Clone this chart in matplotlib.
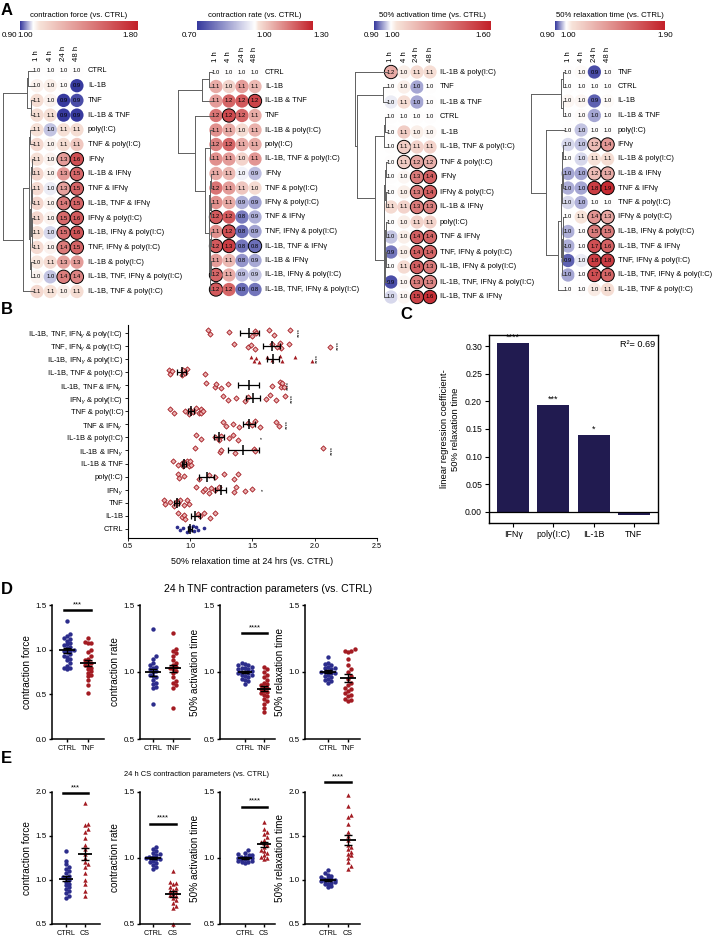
import numpy as np
import matplotlib
matplotlib.use('Agg')
import matplotlib.pyplot as plt
from matplotlib.colors import LinearSegmentedColormap, TwoSlopeNorm

plt.rcParams['font.family'] = ['Liberation Sans', 'DejaVu Sans']
plt.rcParams['mathtext.fontset'] = 'custom'
plt.rcParams['mathtext.rm'] = 'Liberation Sans'
plt.rcParams['mathtext.it'] = 'Liberation Sans:italic'

# ---------------- panel A: heatmaps (values vs. CTRL, 1/4/24/48 h) ----------------
A_TIMES = ['1 h', '4 h', '24 h', '48 h']

force_rows = ['CTRL', 'IL-1B', 'TNF', 'IL-1B & TNF', 'poly(I:C)', 'TNF & poly(I:C)', 'IFNγ',
              'IL-1B & IFNγ', 'TNF & IFNγ', 'IL-1B, TNF & IFNγ', 'IFNγ & poly(I:C)',
              'IL-1B, IFNγ & poly(I:C)', 'TNF, IFNγ & poly(I:C)', 'IL-1B & poly(I:C)',
              'IL-1B, TNF, IFNγ & poly(I:C)', 'IL-1B, TNF & poly(I:C)']
force_vals = [[1.00, 1.00, 1.00, 1.00], [1.02, 1.03, 1.01, 0.90], [1.07, 1.02, 0.90, 0.91],
              [1.07, 1.06, 0.90, 0.90], [1.06, 0.97, 1.06, 1.07], [1.09, 1.02, 1.07, 1.15],
              [1.06, 1.02, 1.32, 1.62], [1.10, 1.02, 1.34, 1.53], [1.08, 0.99, 1.30, 1.54],
              [1.10, 1.02, 1.45, 1.54], [1.09, 1.02, 1.52, 1.58], [1.06, 0.98, 1.50, 1.60],
              [1.08, 1.02, 1.45, 1.54], [1.04, 1.08, 1.30, 1.32], [1.02, 0.97, 1.44, 1.42],
              [1.09, 1.05, 1.03, 1.07]]
force_sig = ['0000', '0000', '0000', '0000', '0000', '0000', '0011', '0001', '0011', '0011',
             '0011', '0011', '0011', '0000', '0011', '0000']
force_links = [[0, 1, 0.17], [2, 3, 0.08], [16, 17, 0.2], [4, 5, 0.1], [6, 7, 0.04], [8, 9, 0.03],
               [20, 21, 0.06], [10, 11, 0.03], [12, 23, 0.05], [22, 24, 0.08], [13, 14, 0.06],
               [25, 26, 0.1], [19, 27, 0.14], [28, 15, 0.33], [18, 29, 1.0]]

rate_rows = ['CTRL', 'IL-1B', 'IL-1B & TNF', 'TNF', 'IL-1B & poly(I:C)', 'poly(I:C)',
             'IL-1B, TNF & poly(I:C)', 'IFNγ', 'TNF & poly(I:C)', 'IFNγ & poly(I:C)', 'TNF & IFNγ',
             'TNF, IFNγ & poly(I:C)', 'IL-1B, TNF & IFNγ', 'IL-1B & IFNγ', 'IL-1B, IFNγ & poly(I:C)',
             'IL-1B, TNF, IFNγ & poly(I:C)']
rate_vals = [[1.00, 1.00, 1.00, 1.00], [1.10, 1.04, 1.12, 1.08], [1.12, 1.20, 1.22, 1.25],
             [1.18, 1.24, 1.20, 1.10], [1.14, 1.10, 1.03, 1.09], [1.16, 1.20, 1.10, 1.10],
             [1.14, 1.12, 1.04, 1.13], [1.10, 1.08, 0.98, 0.90], [1.18, 1.12, 1.06, 1.03],
             [1.14, 1.10, 0.88, 0.86], [1.22, 1.22, 0.80, 0.88], [1.14, 1.23, 0.78, 0.86],
             [1.22, 1.26, 0.79, 0.78], [1.12, 1.08, 0.84, 0.87], [1.20, 1.10, 0.90, 0.91],
             [1.22, 1.20, 0.78, 0.79]]
rate_sig = ['0000', '0000', '0001', '0100', '0000', '0000', '0000', '0000', '0000', '0000',
            '1000', '0100', '1101', '0000', '1000', '1000']
rate_links = [[0, 1, 0.1], [16, 2, 0.28], [4, 5, 0.05], [18, 6, 0.07], [7, 8, 0.04], [9, 10, 0.03],
              [20, 21, 0.05], [11, 12, 0.03], [13, 14, 0.03], [23, 24, 0.05], [25, 15, 0.06],
              [22, 26, 0.08], [19, 27, 0.2], [3, 28, 0.5], [17, 29, 1.0]]

act_rows = ['IL-1B & poly(I:C)', 'TNF', 'IL-1B & TNF', 'CTRL', 'IL-1B', 'IL-1B, TNF & poly(I:C)',
            'TNF & poly(I:C)', 'IFNγ', 'IFNγ & poly(I:C)', 'IL-1B & IFNγ', 'poly(I:C)', 'TNF & IFNγ',
            'TNF, IFNγ & poly(I:C)', 'IL-1B, IFNγ & poly(I:C)', 'IL-1B, TNF, IFNγ & poly(I:C)',
            'IL-1B, TNF & IFNγ']
act_vals = [[1.20, 1.02, 1.06, 1.05], [1.00, 1.02, 0.955, 1.00], [0.99, 1.05, 0.955, 1.00],
            [1.00, 1.00, 1.00, 1.00], [1.00, 1.10, 1.02, 1.01], [1.00, 1.10, 1.08, 1.08],
            [1.00, 1.10, 1.22, 1.18], [1.00, 1.01, 1.34, 1.42], [1.00, 1.02, 1.34, 1.42],
            [1.06, 1.08, 1.34, 1.32], [1.00, 1.02, 1.08, 1.08], [0.97, 1.02, 1.42, 1.40],
            [0.93, 1.02, 1.42, 1.40], [1.00, 1.06, 1.42, 1.34], [0.91, 1.01, 1.33, 1.30],
            [0.98, 1.01, 1.50, 1.56]]
act_sig = ['1000', '0000', '0000', '0000', '0000', '0100', '0111', '0011', '0011', '0011',
           '0000', '0011', '0011', '0011', '0011', '0011']
act_links = [[1, 2, 0.12], [3, 4, 0.05], [17, 5, 0.1], [6, 7, 0.04], [8, 9, 0.03], [19, 20, 0.05],
             [10, 11, 0.03], [12, 13, 0.03], [22, 23, 0.05], [24, 14, 0.06], [21, 25, 0.08],
             [26, 15, 0.1], [18, 27, 0.37], [16, 28, 0.93], [0, 29, 1.0]]

relax_rows = ['TNF', 'CTRL', 'IL-1B', 'IL-1B & TNF', 'poly(I:C)', 'IFNγ', 'IL-1B & poly(I:C)',
              'IL-1B & IFNγ', 'TNF & IFNγ', 'TNF & poly(I:C)', 'IFNγ & poly(I:C)',
              'IL-1B, IFNγ & poly(I:C)', 'IL-1B, TNF & IFNγ', 'TNF, IFNγ & poly(I:C)',
              'IL-1B, TNF, IFNγ & poly(I:C)', 'IL-1B, TNF & poly(I:C)']
relax_vals = [[1.00, 1.01, 0.91, 1.00], [1.00, 1.00, 1.00, 1.00], [1.02, 1.02, 0.92, 1.01],
              [1.00, 1.01, 0.955, 1.00], [1.00, 0.97, 1.00, 1.00], [0.98, 0.97, 1.22, 1.38],
              [1.00, 0.98, 1.06, 1.08], [0.955, 0.955, 1.22, 1.30], [0.96, 0.955, 1.78, 1.86],
              [0.98, 0.96, 1.00, 1.00], [1.00, 1.05, 1.40, 1.32], [0.96, 1.00, 1.50, 1.50],
              [0.96, 1.00, 1.70, 1.62], [0.92, 0.99, 1.78, 1.78], [0.955, 1.00, 1.70, 1.60],
              [1.00, 1.00, 1.04, 1.08]]
relax_sig = ['0000', '0000', '0000', '0000', '0000', '0011', '0000', '0011', '0011', '0000',
             '0011', '0011', '0011', '0011', '0011', '0000']
relax_links = [[0, 1, 0.02], [2, 3, 0.02], [16, 17, 0.1], [5, 6, 0.03], [7, 8, 0.04], [19, 20, 0.05],
               [21, 9, 0.06], [10, 11, 0.03], [12, 13, 0.03], [23, 24, 0.04], [25, 14, 0.05],
               [22, 26, 0.08], [27, 15, 0.19], [4, 28, 0.56], [18, 29, 1.0]]

A_TITLES = ['contraction force (vs. CTRL)', 'contraction rate (vs. CTRL)',
            '50% activation time (vs. CTRL)', '50% relaxation time (vs. CTRL)']
A_RANGES = [(0.9, 1.8), (0.7, 1.3), (0.9, 1.6), (0.9, 1.9)]

# ---------------- panel B ----------------
b_labels = ['IL-1B, TNF, IFN$_\\gamma$ & poly(I:C)', 'TNF, IFN$_\\gamma$ & poly(I:C)',
            'IL-1B, IFN$_\\gamma$ & poly(I:C)', 'IL-1B, TNF & poly(I:C)', 'IL-1B, TNF & IFN$_\\gamma$',
            'IFN$_\\gamma$ & poly(I:C)', 'TNF & poly(I:C)', 'TNF & IFN$_\\gamma$', 'IL-1B & poly(I:C)',
            'IL-1B & IFN$_\\gamma$', 'IL-1B & TNF', 'poly(I:C)', 'IFN$_\\gamma$', 'TNF', 'IL-1B', 'CTRL']
b_vals = [[1.14, 1.16, 1.31, 1.50, 1.52, 1.53, 1.63, 1.67, 1.80],
          [1.35, 1.46, 1.49, 1.52, 1.66, 1.70, 1.72, 1.73, 1.79, 2.12],
          [1.49, 1.51, 1.53, 1.55, 1.62, 1.66, 1.72, 1.74, 1.84, 1.98],
          [0.83, 0.84, 0.85, 0.93, 0.94, 0.96, 0.97, 1.12],
          [1.13, 1.20, 1.21, 1.25, 1.30, 1.66, 1.72, 1.73, 1.74, 1.75],
          [1.26, 1.30, 1.37, 1.44, 1.46, 1.61, 1.64, 1.69, 1.76],
          [0.84, 0.87, 0.96, 0.99, 1.00, 1.02, 1.05, 1.07, 1.09, 1.09, 1.10],
          [1.26, 1.29, 1.34, 1.39, 1.46, 1.50, 1.52, 1.56, 1.69, 1.71],
          [1.05, 1.09, 1.20, 1.23, 1.25, 1.31, 1.34, 1.38],
          [1.04, 1.24, 1.25, 1.36, 1.51, 1.52, 2.07],
          [0.86, 0.90, 0.93, 0.94, 0.95, 0.96, 0.97, 0.99, 1.00, 1.01],
          [0.90, 0.91, 0.95, 1.07, 1.15, 1.20, 1.27, 1.35, 1.38],
          [1.05, 1.10, 1.12, 1.15, 1.17, 1.20, 1.23, 1.35, 1.37, 1.44, 1.50],
          [0.79, 0.80, 0.84, 0.87, 0.89, 0.90, 0.92, 0.95, 0.97, 0.99],
          [0.90, 0.93, 0.95, 0.96, 1.06, 1.08, 1.11, 1.16, 1.20],
          [0.89, 0.92, 0.94, 0.97, 0.99, 1.00, 1.02, 1.03, 1.05, 1.06, 1.11]]
b_stars = ['****', '****', '****', '', '****', '****', '', '****', '*', '****', '', '', '*', '', '', '']
b_star_x = [1.88, 2.19, 2.02, None, 1.79, 1.82, None, 1.78, 1.58, 2.14, None, None, 1.59, None, None, None]

# ---------------- panel C ----------------
c_names = ['IFNγ', 'poly(I:C)', 'IL-1B', 'TNF']
c_coef = [0.305, 0.194, 0.139, -0.005]
c_stars = ['****', '***', '*', '']

# ---------------- panels D / E ----------------
DE_YLABELS = ['contraction force', 'contraction rate', '50% activation time', '50% relaxation time']
d_ctrl = [[1.32, 1.17, 1.15, 1.13, 1.12, 1.10, 1.08, 1.06, 1.05, 1.03, 1.02, 1.00, 0.99, 0.98, 0.97,
           0.95, 0.93, 0.92, 0.90, 0.88, 0.85, 0.82, 0.80, 0.78, 0.79],
          [1.32, 1.12, 1.10, 1.07, 1.05, 1.04, 1.03, 1.02, 1.01, 1.00, 0.98, 0.97, 0.96, 0.94, 0.92,
           0.91, 0.89, 0.88, 0.76],
          [1.07, 1.06, 1.05, 1.05, 1.04, 1.03, 1.02, 1.02, 1.01, 1.00, 1.00, 0.99, 0.99, 0.98, 0.97,
           0.96, 0.95, 0.94, 0.93, 0.91, 1.03, 0.98],
          [1.11, 1.07, 1.06, 1.05, 1.04, 1.03, 1.02, 1.01, 1.00, 1.00, 0.99, 0.98, 0.97, 0.96, 0.95,
           0.94, 0.93, 0.92, 1.03, 0.99]]
d_tnf = [[1.13, 1.09, 1.08, 1.07, 1.00, 0.97, 0.93, 0.90, 0.88, 0.86, 0.85, 0.83, 0.82, 0.80, 0.78,
          0.76, 0.74, 0.72, 0.70, 0.66, 0.60, 0.52],
         [1.29, 1.17, 1.16, 1.14, 1.12, 1.09, 1.07, 1.05, 1.04, 1.03, 1.02, 1.01, 0.99, 0.96, 0.93,
          0.92, 0.90, 0.88, 0.73],
         [1.04, 1.02, 1.00, 0.98, 0.96, 0.94, 0.92, 0.91, 0.90, 0.89, 0.88, 0.87, 0.86, 0.85, 0.84,
          0.83, 0.82, 0.80, 0.78, 0.76, 0.73, 0.70],
         [1.17, 1.16, 1.16, 1.15, 1.10, 1.05, 1.02, 1.00, 0.97, 0.95, 0.92, 0.90, 0.88, 0.86, 0.84,
          0.82, 0.80, 0.79, 0.78, 0.87, 0.83]]
d_sig = [(1.44, '***'), None, (1.29, '****'), None]

e_ctrl = [[1.33, 1.22, 1.18, 1.15, 1.12, 1.10, 1.08, 1.05, 1.03, 1.00, 0.98, 0.96, 0.94, 0.92, 0.90,
           0.88, 0.85, 0.82, 0.80, 1.02],
          [1.08, 1.07, 1.05, 1.04, 1.03, 1.02, 1.01, 1.00, 1.00, 0.99, 0.98, 0.97, 0.96, 0.95, 0.93,
           0.92, 1.01, 0.99],
          [1.06, 1.04, 1.03, 1.02, 1.01, 1.00, 1.00, 0.99, 0.99, 0.98, 0.98, 0.97, 0.97, 0.96, 1.01,
           1.00, 0.99, 1.02],
          [1.11, 1.08, 1.06, 1.05, 1.03, 1.02, 1.01, 1.00, 0.99, 0.98, 0.97, 0.96, 0.95, 0.93, 0.92,
           1.00, 0.99, 1.01]]
e_cs = [[1.87, 1.64, 1.62, 1.58, 1.55, 1.48, 1.40, 1.35, 1.30, 1.25, 1.20, 1.18, 1.15, 1.08, 1.00,
         0.95, 0.88, 0.82],
        [0.90, 0.82, 0.81, 0.80, 0.78, 0.77, 0.76, 0.75, 0.74, 0.73, 0.72, 0.71, 0.70, 0.68, 0.66,
         0.64, 0.62, 0.50],
        [1.27, 1.22, 1.20, 1.18, 1.16, 1.14, 1.12, 1.11, 1.10, 1.08, 1.06, 1.05, 1.04, 1.02, 1.01,
         1.00, 0.99],
        [1.97, 1.84, 1.74, 1.72, 1.64, 1.55, 1.50, 1.45, 1.40, 1.38, 1.35, 1.32, 1.30, 1.28, 1.25,
         1.20, 1.16, 1.13]]
e_sig = [(1.99, '***'), (1.26, '****'), (1.39, '****'), (2.11, '****')]

BLUE = '#2c2d8c'
RED = '#a31b22'
NAVY = '#211b50'
DEND = '#606060'

W, H = 718, 939
fig = plt.figure(figsize=(W / 100, H / 100), dpi=100)


def rect(l, t, w, h):
    return [l / W, 1 - (t + h) / H, w / W, h / H]


def letter(x, y, s):
    fig.text(x / W, 1 - y / H, s, fontsize=12, fontweight='bold', va='top', ha='left')


cmap = LinearSegmentedColormap.from_list(
    'bw_r', [(0, '#373a9e'), (0.5, '#ffffff'), (0.53, '#f7e3d9'), (1, '#c3222a')])


def dendro(ax, links, n):
    pos = {i: float(i) for i in range(n)}
    hgt = {i: 0.0 for i in range(n)}
    for k, (a, b, h) in enumerate(links):
        for c in (a, b):
            ax.plot([hgt[c], h], [pos[c], pos[c]], color=DEND, lw=0.7, clip_on=False)
        ax.plot([h, h], [pos[a], pos[b]], color=DEND, lw=0.7, clip_on=False)
        pos[n + k] = (pos[a] + pos[b]) / 2
        hgt[n + k] = h


# layout of the four heatmap blocks (pixels)
A_LAYOUT = [dict(col0=37, dx=13.3, row0=71, dy=14.7, cb=(20, 138), dend=3, gap=11,
                 tick_ha=('right', 'right', 'right'), tick_dx=(-3, 0, 0)),
            dict(col0=216, dx=13.0, row0=72, dy=14.5, cb=(197, 313), dend=178, gap=10,
                 tick_ha=('right', 'left', 'left'), tick_dx=(0, 1, 0)),
            dict(col0=391, dx=13.0, row0=72, dy=15.0, cb=(374, 491), dend=355, gap=10,
                 tick_ha=('center', 'center', 'right'), tick_dx=(-3, 1, 0)),
            dict(col0=568, dx=13.2, row0=72, dy=14.5, cb=(555, 665), dend=531, gap=10,
                 tick_ha=('right', 'center', 'center'), tick_dx=(0, 2, 0))]

A_DATA = [(force_rows, force_vals, force_sig, force_links),
          (rate_rows, rate_vals, rate_sig, rate_links),
          (act_rows, act_vals, act_sig, act_links),
          (relax_rows, relax_vals, relax_sig, relax_links)]

for (rows, vals, sig, links), lay, rng, title in zip(A_DATA, A_LAYOUT, A_RANGES, A_TITLES):
    vmin, vmax = rng
    norm = TwoSlopeNorm(vcenter=1.0, vmin=vmin, vmax=vmax)
    n = len(rows)
    top = lay['row0'] - lay['dy'] / 2
    ax = fig.add_axes(rect(lay['col0'] - lay['dx'] / 2, top, 4 * lay['dx'], n * lay['dy']))
    ax.set_xlim(-0.5, 3.5)
    ax.set_ylim(n - 0.5, -0.5)
    ax.axis('off')
    v = np.array(vals)
    s = np.array([[int(c) for c in r] for r in sig])
    xx, yy = np.meshgrid(np.arange(4), np.arange(n))
    ax.scatter(xx.ravel(), yy.ravel(), s=92, c=cmap(norm(v.ravel())),
               edgecolors=np.where(s.ravel()[:, None] == 1, [[0, 0, 0, 1]], [[0, 0, 0, 0]]),
               linewidths=0.7, clip_on=False)
    for i in range(n):
        for j in range(4):
            ax.text(j, i, f'{v[i, j]:.1f}', fontsize=4.2, ha='center', va='center')
        ax.text(3 + lay['gap'] / lay['dx'], i, rows[i], fontsize=5.4,
                ha='left', va='center', clip_on=False)
    for j, t in enumerate(A_TIMES):
        ax.text(j, -0.7, t, rotation=90, fontsize=5.6, ha='center', va='bottom')

    # dendrogram
    dax = fig.add_axes(rect(lay['dend'], top, lay['col0'] - 4 - lay['dend'], n * lay['dy']))
    dax.set_xlim(1.0, 0.0)
    dax.set_ylim(n - 0.5, -0.5)
    dax.axis('off')
    dendro(dax, links, n)

    # colour bar
    x0, x1 = lay['cb']
    cax = fig.add_axes(rect(x0, 21, x1 - x0, 9))
    grad = np.linspace(vmin, vmax, 300)[None, :]
    cax.imshow(grad, cmap=cmap, norm=norm, aspect='auto', extent=(vmin, vmax, 0, 1))
    cax.set_xlim(vmin, vmax)
    cax.axis('off')
    cax.text(0.5, 1.25, title, transform=cax.transAxes, ha='center', va='bottom', fontsize=5.6)
    for tv, ha, tdx in zip([vmin, 1.0, vmax], lay['tick_ha'], lay['tick_dx']):
        cax.annotate(f'{tv:.2f}', xy=(tv, 0), xycoords=('data', 'axes fraction'),
                     xytext=(tdx * 0.72, -1.5), textcoords='offset points',
                     ha=ha, va='top', fontsize=5.8)

letter(1, 3, 'A')

# ---------------- panel B ----------------
bx = fig.add_axes(rect(128, 325, 249, 213))
nb = len(b_labels)
jit = [0.18, -0.12, 0.05, -0.22, 0.12, -0.05, 0.22, -0.17]
for i, vals in enumerate(b_vals):
    y = nb - 1 - i
    v = np.array(vals)
    off = np.resize(jit, len(v))
    if b_labels[i] == 'CTRL':
        bx.scatter(v, y + off, s=7, marker='o', color=BLUE, lw=0, zorder=2)
    elif i == 2:
        bx.scatter(v, y + off, s=8, marker='^', color=RED, lw=0, zorder=2)
    else:
        bx.scatter(v, y + off, s=7, marker='D', facecolor='#eab0b0', edgecolor=RED,
                   linewidths=0.6, zorder=2)
    m = v.mean()
    se = v.std(ddof=1) / np.sqrt(len(v))
    bx.errorbar(m, y, xerr=se, fmt='none', ecolor='k', elinewidth=0.9, capsize=2.2,
                capthick=0.9, zorder=3)
    bx.plot(m, y, marker='|', ms=7, mew=1.1, color='k', zorder=3)
    if b_stars[i]:
        bx.text(b_star_x[i], y, b_stars[i], rotation=90, ha='center', va='center', fontsize=4.2)
bx.set_xlim(0.5, 2.5)
bx.set_ylim(-0.7, nb - 0.4)
bx.set_yticks(range(nb))
bx.set_yticklabels(b_labels[::-1], fontsize=5.4)
bx.set_xticks([0.5, 1.0, 1.5, 2.0, 2.5])
bx.set_xticklabels(['0.5', '1.0', '1.5', '2.0', '2.5'], fontsize=5.2)
bx.set_xlabel('50% relaxation time at 24 hrs (vs. CTRL)', fontsize=6.4, labelpad=5)
bx.spines[['top', 'right']].set_visible(False)
bx.tick_params(length=2, width=0.6, pad=1.5)
letter(1, 302, 'B')

# ---------------- panel C ----------------
cx = fig.add_axes(rect(489, 335, 169, 188))
cx.bar(range(len(c_names)), c_coef, width=0.8, color=NAVY)
for i, (val, st) in enumerate(zip(c_coef, c_stars)):
    if st:
        cx.text(i, val + 0.002, st, ha='center', va='bottom', fontsize=6.5)
cx.axhline(0, color='k', lw=0.9)
cx.set_xlim(-0.6, 3.6)
cx.set_ylim(-0.02, 0.32)
cx.set_yticks(np.arange(0, 0.31, 0.05))
cx.set_yticklabels([f'{t:.2f}' for t in np.arange(0, 0.31, 0.05)], fontsize=6.2)
cx.set_xticks(range(len(c_names)))
cx.set_xticklabels(c_names, fontsize=6.4)
cx.set_ylabel('linear regression coefficient-\n50% relaxation time', fontsize=6.8)
cx.text(0.985, 0.975, 'R²= 0.69', transform=cx.transAxes, ha='right', va='top', fontsize=6.6)
cx.tick_params(length=3, width=0.8, pad=2)
for sp in cx.spines.values():
    sp.set_linewidth(1.0)
letter(400, 307, 'C')


# ---------------- panels D / E ----------------
def swarm(vals, xpx, ypx, d=3.4, max_off=9.0):
    # simple beeswarm: offsets in data units so that markers (d px) barely overlap
    vals = np.asarray(vals, dtype=float)
    offs = np.zeros(len(vals))
    placed = []
    for i in np.argsort(vals):
        y = vals[i] * ypx
        best = None
        for k in range(60):
            cands = [0.0] if k == 0 else [k * d * 0.5, -k * d * 0.5]
            ok = [c for c in cands if all((c - px) ** 2 + (y - py) ** 2 >= d * d for px, py in placed)]
            if ok:
                best = ok[0]
                break
        if best is None or abs(best) > max_off:
            best = ((len(placed) % 5) - 2) * max_off / 2.5
        offs[i] = best
        placed.append((best, y))
    return offs / xpx


def dot_panel(lay, top, bottom, ctrl, trt, name, marker, ylim, ylabel, sig):
    left, pc, pt, right = lay
    unit = pt - pc
    ypx = (bottom - top) / (ylim[1] - ylim[0])
    ax = fig.add_axes(rect(left, top, right - left, bottom - top))
    for i, (vals, col, mk) in enumerate([(ctrl, BLUE, 'o'), (trt, RED, marker)]):
        v = np.asarray(vals)
        off = swarm(v, unit, ypx)
        ax.scatter(i + off, v, s=10, color=col, marker=mk, lw=0, zorder=2, clip_on=False)
        m = v.mean()
        se = v.std(ddof=1) / np.sqrt(len(v))
        ax.hlines(m, i - 0.38, i + 0.38, color='k', lw=1.3, zorder=3)
        ax.errorbar(i, m, yerr=se, fmt='none', ecolor='k', elinewidth=1.0, capsize=3,
                    capthick=1.0, zorder=3)
    if sig:
        yv, st = sig
        ax.plot([-0.15, 1.15], [yv, yv], color='k', lw=1.8, clip_on=False)
        ax.text(0.5, yv + (ylim[1] - ylim[0]) * 0.015, st, ha='center', va='bottom',
                fontsize=5.5, clip_on=False)
    ax.set_xlim((left - pc) / unit, (right - pc) / unit)
    ax.set_ylim(*ylim)
    ticks = np.arange(ylim[0], ylim[1] + 0.01, 0.5)
    ax.set_yticks(ticks)
    ax.set_yticklabels([f'{t:.1f}' for t in ticks], fontsize=5.8)
    ax.set_xticks([0, 1])
    ax.set_xticklabels(['CTRL', name], fontsize=5.2)
    ax.set_ylabel(ylabel, fontsize=7.2, labelpad=2)
    ax.spines[['top', 'right']].set_visible(False)
    for sp in ax.spines.values():
        sp.set_linewidth(1.1)
    ax.tick_params(length=2.5, width=1.0, pad=1.5)


D_LAYOUT = [(52, 67, 88, 104), (140, 153, 173, 190), (220, 245, 264, 275), (305, 328, 348, 360)]
E_LAYOUT = [(52, 66, 85, 100), (140, 153, 173, 190), (220, 245, 264, 275), (305, 328, 348, 360)]
D_YLIM = [(0, 1.5), (0.5, 1.5), (0.5, 1.5), (0.5, 1.5)]
E_YLIM = [(0.5, 2.0), (0.5, 1.5), (0.5, 1.5), (0.5, 2.0)]

fig.text(268 / W, 1 - 589 / H, '24 h TNF contraction parameters (vs. CTRL)', ha='center',
         va='center', fontsize=7.6)
for k in range(4):
    dot_panel(D_LAYOUT[k], 605, 739, d_ctrl[k], d_tnf[k], 'TNF', 'o', D_YLIM[k],
              DE_YLABELS[k], d_sig[k])
letter(1, 582, 'D')

fig.text(196 / W, 1 - 775 / H, '24 h CS contraction parameters (vs. CTRL)', ha='center',
         va='center', fontsize=5.4)
for k in range(4):
    dot_panel(E_LAYOUT[k], 792, 924, e_ctrl[k], e_cs[k], 'CS', '^', E_YLIM[k],
              DE_YLABELS[k], e_sig[k])
letter(1, 751, 'E')

fig.savefig('out.png', dpi=100)
